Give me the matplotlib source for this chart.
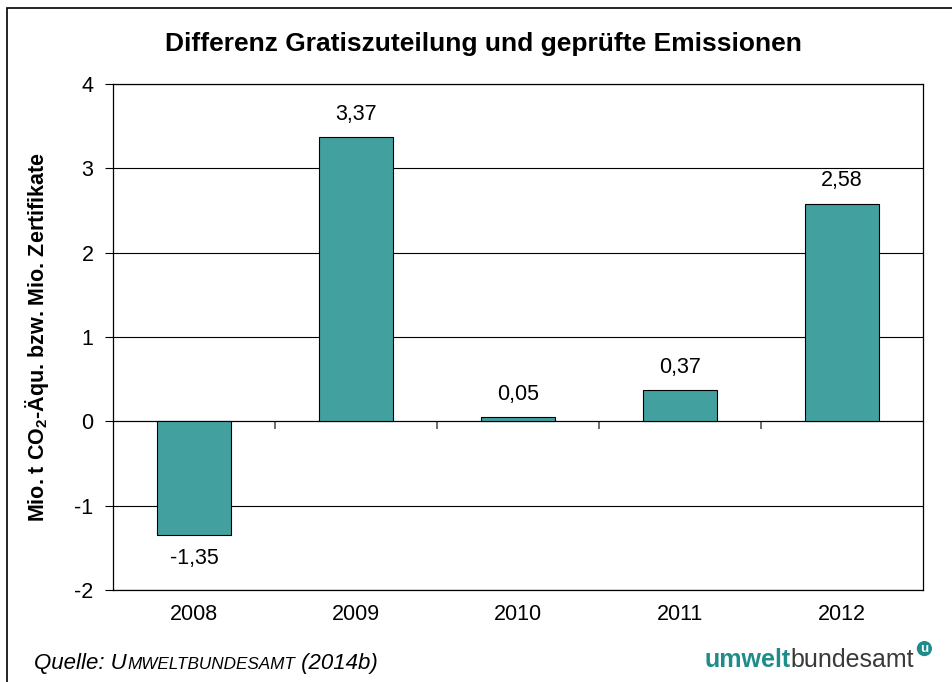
import matplotlib
matplotlib.use("Agg")
import matplotlib.pyplot as plt
from matplotlib.offsetbox import TextArea, HPacker, AnnotationBbox
from matplotlib.patches import Rectangle

plt.rcParams['font.family'] = ['Liberation Sans', 'DejaVu Sans']
plt.rcParams['axes.unicode_minus'] = False
plt.rcParams['mathtext.fontset'] = 'custom'
plt.rcParams['mathtext.rm'] = 'Liberation Sans'
plt.rcParams['mathtext.bf'] = 'Liberation Sans:bold'

years = ["2008", "2009", "2010", "2011", "2012"]
values = [-1.35, 3.37, 0.05, 0.37, 2.58]
value_labels = ["-1,35", "3,37", "0,05", "0,37", "2,58"]
yticks = [-2, -1, 0, 1, 2, 3, 4]

BAR_COLOR = "#42A09F"
TEAL = "#1E8C8A"

fig = plt.figure(figsize=(9.52, 6.82), dpi=100)
ax = fig.add_axes([0.1187, 0.1349, 0.8508, 0.7419])

x = list(range(len(years)))
ax.bar(x, values, width=0.46, color=BAR_COLOR, edgecolor="black", linewidth=0.8, zorder=3)

for xi, v, lab in zip(x, values, value_labels):
    if v >= 0:
        ax.annotate(lab, (xi, v), xytext=(0, 9), textcoords="offset points",
                    ha="center", va="bottom", fontsize=15.5)
    else:
        ax.annotate(lab, (xi, v), xytext=(0, -9), textcoords="offset points",
                    ha="center", va="top", fontsize=15.5)

ax.set_xlim(-0.5, len(years) - 0.5)
ax.set_ylim(-2, 4)
ax.set_yticks(yticks)
ax.set_yticklabels([str(t) for t in yticks], fontsize=15.5)
ax.set_xticks(x)
ax.set_xticklabels(years, fontsize=15.5)
ax.tick_params(axis="x", length=0, pad=10)
ax.tick_params(axis="y", length=6, width=0.8, direction="out", pad=8)
ax.yaxis.grid(True, color="black", linewidth=0.8, zorder=0)
ax.set_axisbelow(True)
for s in ax.spines.values():
    s.set_color("black")
    s.set_linewidth(0.9)

# category axis crossing at zero with tick marks between categories
zero_pos = (0 - ax.get_ylim()[0]) / (ax.get_ylim()[1] - ax.get_ylim()[0])
sec = ax.secondary_xaxis(zero_pos)
sec.set_xticks([i + 0.5 for i in x[:-1]])
sec.set_xticklabels([])
sec.tick_params(axis="x", direction="out", length=6, width=1.2, color="#555555")
sec.spines["bottom"].set_linewidth(0.8)

ax.set_ylabel(r"Mio. t CO$_\mathbf{2}$-Äqu. bzw. Mio. Zertifikate", fontsize=15.5,
              fontweight="bold")
ax.yaxis.set_label_coords(-0.077, 0.5)

fig.text(0.508, 0.935, "Differenz Gratiszuteilung und geprüfte Emissionen",
         ha="center", va="center", fontsize=19, fontweight="bold")

# outer frame (top and left edge visible)
fig.patches.append(Rectangle((0.0075, -0.05), 1.1, 1.039, transform=fig.transFigure,
                             fill=False, edgecolor="black", linewidth=1.2))

# source line with small caps
src = HPacker(children=[
    TextArea("Quelle: U", textprops=dict(fontsize=16, style="italic")),
    TextArea("MWELTBUNDESAMT", textprops=dict(fontsize=12.3, style="italic")),
    TextArea(" (2014b)", textprops=dict(fontsize=16, style="italic")),
], align="baseline", pad=0, sep=0)
fig.add_artist(AnnotationBbox(src, (0.036, 0.012), xycoords="figure fraction",
                              box_alignment=(0, 0), frameon=False))

# logo
logo = HPacker(children=[
    TextArea("umwelt", textprops=dict(fontsize=18, fontweight="bold", color=TEAL)),
    TextArea("bundesamt", textprops=dict(fontsize=18, color="#3a3a3a")),
], align="baseline", pad=0, sep=0)
fig.add_artist(AnnotationBbox(logo, (0.96, 0.014), xycoords="figure fraction",
                              box_alignment=(1, 0), frameon=False))
fig.text(0.971, 0.049, "u", fontsize=9.5, fontweight="bold", color="white",
         ha="center", va="center",
         bbox=dict(boxstyle="circle,pad=0.12", fc=TEAL, ec="none"))

fig.savefig("out.png", dpi=100)
